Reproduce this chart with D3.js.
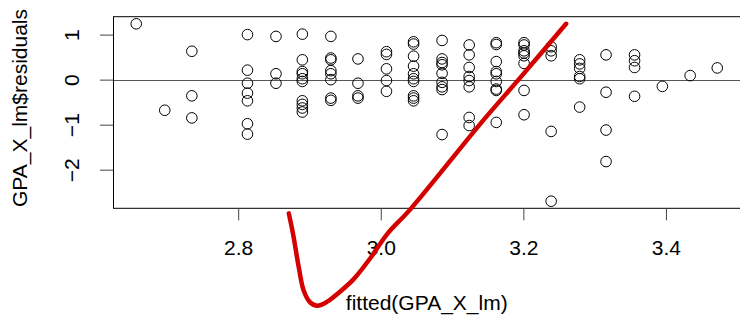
<!DOCTYPE html>
<html>
<head>
<meta charset="utf-8">
<script src="https://cdn.jsdelivr.net/npm/d3@7"></script>
<style>
  body { margin: 0; background: #fff; }
  svg { display: block; font-family: "Liberation Sans", Arial, sans-serif; }
</style>
</head>
<body>
<div id="chart"></div>
<script>

// fitted values (one column of points per level) and the residuals at each level
let fittedLevels = [2.657, 2.697, 2.735, 2.813, 2.853, 2.890, 2.930, 2.968, 3.008, 3.046,
                    3.086, 3.124, 3.162, 3.201, 3.239, 3.279, 3.316, 3.356, 3.395, 3.434, 3.472]
let residualsByLevel = [
  [1.24],
  [-0.68],
  [0.63, -0.36, -0.85],
  [1.00, 0.21, -0.08, -0.30, -0.47, -0.98, -1.21],
  [0.96, 0.13, -0.08],
  [1.01, 0.44, 0.18, 0.13, 0.02, -0.04, -0.47, -0.55, -0.63, -0.72],
  [0.96, 0.48, 0.44, 0.20, 0.13, 0.00, -0.41, -0.46],
  [0.46, -0.08, -0.36, -0.41],
  [0.62, 0.56, 0.24, -0.02, -0.26],
  [0.84, 0.79, 0.52, 0.30, 0.13, 0.02, -0.04, -0.36, -0.41, -0.47],
  [0.87, 0.46, 0.38, 0.33, 0.14, -0.06, -0.16, -0.22, -1.22],
  [0.77, 0.55, 0.27, 0.07, -0.02, -0.16, -0.84, -1.02],
  [0.82, 0.78, 0.40, 0.18, 0.13, -0.04, -0.21, -0.24, -0.95],
  [0.82, 0.77, 0.64, 0.59, 0.53, 0.36, -0.24, -0.78],
  [0.73, 0.64, 0.53, -1.15, -2.70],
  [0.44, 0.35, 0.25, 0.07, 0.02, -0.61],
  [0.55, -0.28, -1.12, -1.82],
  [0.55, 0.42, 0.27, -0.37],
  [-0.15],
  [0.09],
  [0.26]
]

let xTicks = [2.8, 3.0, 3.2, 3.4]
let yTicks = [-2, -1, 0, 1]

// hand drawn red stroke, in (fitted, residual) units
let strokeX = [2.871, 2.877, 2.885, 2.892, 2.901, 2.911, 2.923, 2.939, 2.962, 2.986, 3.009, 3.042, 3.144, 3.196, 3.260]
let strokeY = [-2.97, -3.43, -4.17, -4.69, -4.95, -5.02, -4.95, -4.76, -4.43, -3.95, -3.43, -2.87, -0.90, 0.05, 1.24]

let width = 740
let height = 321
let plotLeft = 113, plotTop = 16.7, plotBottom = 208.3, plotRight = 740.5

let points = []
fittedLevels.forEach((f, i) => residualsByLevel[i].forEach(r => points.push({x: f, y: r})))

// R style axis range: data extent padded by 4%
function padded(ext) {
  let d = (ext[1] - ext[0]) * 0.04
  return [ext[0] - d, ext[1] + d]
}

let x = d3.scaleLinear().domain(padded(d3.extent(points, d => d.x))).range([plotLeft, plotRight])
let y = d3.scaleLinear().domain(padded(d3.extent(points, d => d.y))).range([plotBottom, plotTop])

let svg = d3.select("#chart").append("svg")
  .attr("width", width)
  .attr("height", height)

// zero line
svg.append("line")
  .attr("x1", plotLeft).attr("x2", plotRight)
  .attr("y1", Math.round(y(0)) + 0.5).attr("y2", Math.round(y(0)) + 0.5)
  .attr("stroke", "#555")
  .attr("stroke-width", 1)

svg.append("g")
  .selectAll("circle")
  .data(points)
  .join("circle")
  .attr("cx", d => x(d.x))
  .attr("cy", d => y(d.y))
  .attr("r", 5.3)
  .attr("fill", "none")
  .attr("stroke", "#000")
  .attr("stroke-width", 1)

// plot box
svg.append("rect")
  .attr("x", plotLeft + 0.5).attr("y", plotTop)
  .attr("width", plotRight - plotLeft).attr("height", plotBottom - plotTop)
  .attr("fill", "none")
  .attr("stroke", "#000")
  .attr("stroke-width", 1)

// axes
let xAxis = svg.append("g")
  .attr("transform", `translate(0,${plotBottom})`)
  .call(d3.axisBottom(x).tickValues(xTicks).tickFormat(d3.format(".1f")).tickSize(12).tickPadding(20))
xAxis.select(".domain").remove()
xAxis.selectAll("line").attr("stroke", "#444")
xAxis.selectAll("text").attr("font-size", 21).attr("fill", "#000").attr("font-family", "Liberation Sans, Arial, sans-serif")

let yAxis = svg.append("g")
  .attr("transform", `translate(${plotLeft},0)`)
  .call(d3.axisLeft(y).tickValues(yTicks).tickSize(13).tickFormat(d3.format("d")))
yAxis.select(".domain").remove()
yAxis.selectAll("line").attr("stroke", "#444")
yAxis.selectAll("text")
  .attr("font-size", 21)
  .attr("fill", "#000")
  .attr("font-family", "Liberation Sans, Arial, sans-serif")
  .attr("text-anchor", "middle")
  .attr("x", null).attr("dy", null)
  .attr("transform", "translate(-34,0) rotate(-90)")

// axis titles
svg.append("text")
  .attr("x", (plotLeft + plotRight) / 2)
  .attr("y", 310)
  .attr("text-anchor", "middle")
  .attr("font-size", 21)
  .text("fitted(GPA_X_lm)")

svg.append("text")
  .attr("transform", "translate(27,108) rotate(-90)")
  .attr("text-anchor", "middle")
  .attr("font-size", 21)
  .text("GPA_X_lm$residuals")

// red annotation
let stroke = strokeX.map((v, i) => [v, strokeY[i]])
svg.append("path")
  .datum(stroke)
  .attr("d", d3.line().x(d => x(d[0])).y(d => y(d[1])).curve(d3.curveCatmullRom.alpha(0.5)))
  .attr("fill", "none")
  .attr("stroke", "#d50000")
  .attr("stroke-width", 4.5)
  .attr("stroke-linecap", "round")
  .attr("stroke-linejoin", "round")

</script>
</body>
</html>
